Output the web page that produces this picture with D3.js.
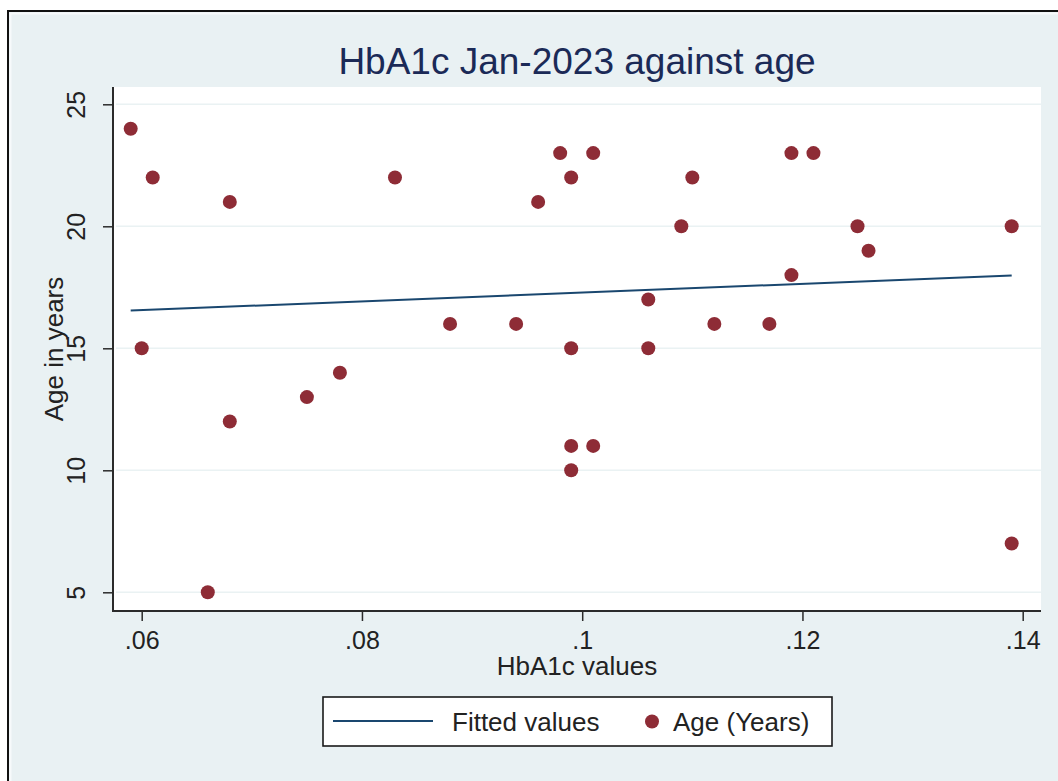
<!DOCTYPE html>
<html>
<head>
<meta charset="utf-8">
<script src="https://cdn.jsdelivr.net/npm/d3@7"></script>
<style>
  html, body { margin: 0; padding: 0; background: #ffffff; }
  svg { display: block; }
  text { font-family: "Liberation Sans", Arial, Helvetica, sans-serif; }
</style>
</head>
<body>
<svg id="chart" width="1058" height="781"></svg>
<script>
// HbA1c values (proportion) and age in years, one entry per participant
const hba1c = [
  0.059, 0.061, 0.060, 0.068, 0.068, 0.066, 0.075, 0.078,
  0.083, 0.088, 0.094, 0.096, 0.098, 0.099, 0.099, 0.099,
  0.099, 0.101, 0.101, 0.106, 0.106, 0.109, 0.110, 0.112,
  0.117, 0.119, 0.119, 0.121, 0.125, 0.126, 0.139, 0.139
];
const ageYears = [
  24, 22, 15, 21, 12, 5, 13, 14,
  22, 16, 16, 21, 23, 22, 15, 11,
  10, 23, 11, 17, 15, 20, 22, 16,
  16, 23, 18, 23, 20, 19, 20, 7
];
const xTicks = [0.06, 0.08, 0.10, 0.12, 0.14];
const xTickLabels = [".06", ".08", ".1", ".12", ".14"];
const yTicks = [5, 10, 15, 20, 25];
const yTickLabels = ["5", "10", "15", "20", "25"];
const legendLabels = ["Fitted values", "Age (Years)"];

const colors = {
  region: "#e9f1f3",
  plot: "#ffffff",
  grid: "#eaf2f3",
  fit: "#1a476f",
  dot: "#8e2c36",
  axis: "#2b2b2b",
  text: "#222222",
  title: "#1b2a57"
};

const svg = d3.select("#chart");

// plot region bounds
const plot = { left: 113, right: 1041, top: 87, bottom: 611 };

const x = d3.scaleLinear().domain([0.06, 0.14]).range([141.7, 1022.7]);
const y = d3.scaleLinear().domain([5, 25]).range([592.3, 104.3]);

// graph region background with its frame
svg.append("rect")
  .attr("x", 7).attr("y", 10).attr("width", 1051).attr("height", 771)
  .attr("fill", colors.region);
svg.append("path")
  .attr("d", "M10.5,781 V13.5 H1058")
  .attr("fill", "none").attr("stroke", "#f7fafb").attr("stroke-width", 2);
svg.append("path")
  .attr("d", "M8,781 V11 H1058")
  .attr("fill", "none").attr("stroke", "#111").attr("stroke-width", 2);

// plot region
svg.append("rect")
  .attr("x", plot.left).attr("y", plot.top)
  .attr("width", plot.right - plot.left).attr("height", plot.bottom - plot.top)
  .attr("fill", colors.plot);

// horizontal grid lines
svg.append("g")
  .selectAll("line")
  .data(yTicks)
  .join("line")
  .attr("x1", plot.left + 3).attr("x2", plot.right)
  .attr("y1", d => y(d)).attr("y2", d => y(d))
  .attr("stroke", colors.grid).attr("stroke-width", 1.6);

// title
svg.append("text")
  .attr("x", (plot.left + plot.right) / 2).attr("y", 73.5)
  .attr("text-anchor", "middle")
  .attr("font-size", 37)
  .attr("fill", colors.title)
  .text("HbA1c Jan-2023 against age");

// x axis
const xAxis = svg.append("g")
  .attr("transform", `translate(0,${plot.bottom})`)
  .call(d3.axisBottom(x)
    .tickValues(xTicks)
    .tickSize(10)
    .tickPadding(10)
    .tickFormat((d, i) => xTickLabels[i]));
xAxis.select(".domain").remove();
xAxis.selectAll(".tick line").attr("stroke", colors.axis).attr("stroke-width", 1.5);
xAxis.selectAll(".tick text")
  .attr("font-size", 25)
  .attr("font-family", "Liberation Sans, Arial, sans-serif")
  .attr("fill", colors.text);
svg.append("line")
  .attr("x1", plot.left - 1).attr("x2", plot.right)
  .attr("y1", plot.bottom).attr("y2", plot.bottom)
  .attr("stroke", colors.axis).attr("stroke-width", 2);

// y axis with vertical tick labels
const yAxis = svg.append("g")
  .attr("transform", `translate(${plot.left},0)`)
  .call(d3.axisLeft(y)
    .tickValues(yTicks)
    .tickSize(10)
    .tickFormat((d, i) => yTickLabels[i]));
yAxis.select(".domain").remove();
yAxis.selectAll(".tick line").attr("stroke", colors.axis).attr("stroke-width", 1.5);
yAxis.selectAll(".tick text")
  .attr("x", null).attr("dy", null)
  .attr("transform", "translate(-28,0) rotate(-90)")
  .attr("text-anchor", "middle")
  .attr("font-size", 25)
  .attr("font-family", "Liberation Sans, Arial, sans-serif")
  .attr("fill", colors.text);
svg.append("line")
  .attr("x1", plot.left).attr("x2", plot.left)
  .attr("y1", plot.top).attr("y2", plot.bottom + 1)
  .attr("stroke", colors.axis).attr("stroke-width", 2);

// axis titles
svg.append("text")
  .attr("x", (plot.left + plot.right) / 2).attr("y", 675)
  .attr("text-anchor", "middle")
  .attr("font-size", 26)
  .attr("fill", colors.text)
  .text("HbA1c values");
svg.append("text")
  .attr("transform", `translate(63,${(plot.top + plot.bottom) / 2}) rotate(-90)`)
  .attr("text-anchor", "middle")
  .attr("font-size", 26)
  .attr("fill", colors.text)
  .text("Age in years");

// least-squares fit of age on HbA1c, drawn across the observed HbA1c range
const mx = d3.mean(hba1c), my = d3.mean(ageYears);
const sxy = d3.sum(hba1c, (v, i) => (v - mx) * (ageYears[i] - my));
const sxx = d3.sum(hba1c, v => (v - mx) * (v - mx));
const slope = sxy / sxx;
const intercept = my - slope * mx;
const fitX = d3.extent(hba1c);
const fitted = fitX.map(v => [v, intercept + slope * v]);

svg.append("path")
  .datum(fitted)
  .attr("d", d3.line().x(d => x(d[0])).y(d => y(d[1])))
  .attr("fill", "none")
  .attr("stroke", colors.fit)
  .attr("stroke-width", 2);

// scatter of age against HbA1c
svg.append("g")
  .selectAll("circle")
  .data(hba1c.map((v, i) => [v, ageYears[i]]))
  .join("circle")
  .attr("cx", d => x(d[0]))
  .attr("cy", d => y(d[1]))
  .attr("r", 7)
  .attr("fill", colors.dot);

// legend
const legend = svg.append("g");
legend.append("rect")
  .attr("x", 323).attr("y", 697).attr("width", 509).attr("height", 49)
  .attr("fill", "#ffffff").attr("stroke", "#1a1a1a").attr("stroke-width", 1.6);
legend.append("line")
  .attr("x1", 333).attr("x2", 433).attr("y1", 721).attr("y2", 721)
  .attr("stroke", colors.fit).attr("stroke-width", 2);
legend.append("text")
  .attr("x", 452).attr("y", 731)
  .attr("font-size", 26).attr("fill", colors.text)
  .text(legendLabels[0]);
legend.append("circle")
  .attr("cx", 652).attr("cy", 721.5).attr("r", 7)
  .attr("fill", colors.dot);
legend.append("text")
  .attr("x", 673).attr("y", 731)
  .attr("font-size", 26).attr("fill", colors.text)
  .text(legendLabels[1]);
</script>
</body>
</html>
